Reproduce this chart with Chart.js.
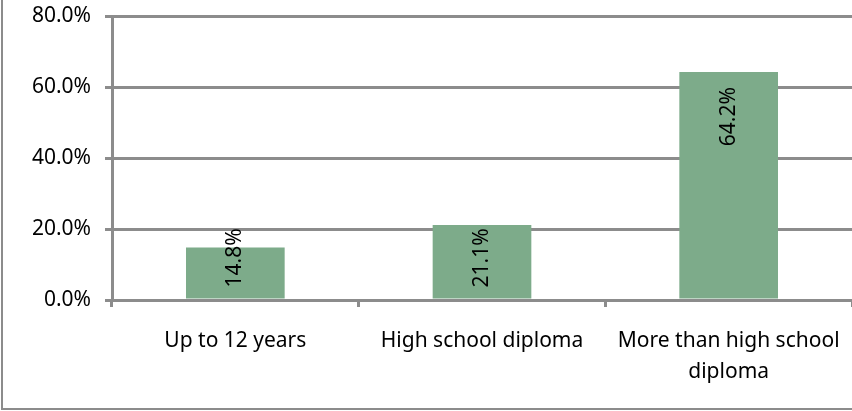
<!DOCTYPE html>
<html lang="en">
<head>
    <meta charset="UTF-8">
    <title>Education level</title>
    <script src="https://cdn.jsdelivr.net/npm/chart.js"></script>
    <style>
        html, body { margin: 0; padding: 0; background: #fff; }
        #wrap { width: 852px; height: 411px; position: relative; }
    </style>
</head>
<body>
    <div id="wrap"><canvas id="eduChart" width="852" height="411"></canvas></div>

    <script>
        // chart data
        const categories = [['Up to 12 years'], ['High school diploma'], ['More than high school', 'diploma']];
        const shares = [14.8, 21.1, 64.2];
        const yTicks = [0, 20, 40, 60, 80];

        const FONT = 'Noto Sans';
        const GRID = '#8c8c8c';

        // frame around the chart (left and bottom edge visible)
        const framePlugin = {
            id: 'frame',
            beforeDraw(chart) {
                const ctx = chart.ctx;
                ctx.save();
                ctx.strokeStyle = '#8c8c8c';
                ctx.lineWidth = 2;
                ctx.beginPath();
                ctx.moveTo(2, 0);
                ctx.lineTo(2, 409);
                ctx.lineTo(852, 409);
                ctx.stroke();
                ctx.restore();
            }
        };

        // rotated value labels, inside end, pushed up from the base for short bars
        const valueLabels = {
            id: 'valueLabels',
            afterDatasetsDraw(chart) {
                const ctx = chart.ctx;
                const meta = chart.getDatasetMeta(0);
                ctx.save();
                ctx.font = '21px "' + FONT + '"';
                ctx.fillStyle = '#000';
                ctx.textBaseline = 'middle';
                meta.data.forEach((bar, i) => {
                    const text = shares[i].toFixed(1) + '%';
                    const len = ctx.measureText(text).width;
                    let top = bar.y + 15;
                    if (top + len > bar.base - 11) top = bar.base - 11 - len;
                    ctx.save();
                    ctx.translate(bar.x, top);
                    ctx.rotate(-Math.PI / 2);
                    ctx.textAlign = 'right';
                    ctx.fillText(text, 0, 0);
                    ctx.restore();
                });
                ctx.restore();
            }
        };

        new Chart(document.getElementById('eduChart'), {
            type: 'bar',
            data: {
                labels: categories,
                datasets: [{
                    data: shares,
                    backgroundColor: '#7dab8a',
                    barPercentage: 0.4,
                    categoryPercentage: 1.0
                }]
            },
            options: {
                responsive: false,
                animation: false,
                layout: { padding: { top: 16, right: 0, left: 0, bottom: 0 } },
                plugins: {
                    legend: { display: false },
                    tooltip: { enabled: false }
                },
                scales: {
                    x: {
                        grid: {
                            drawOnChartArea: false,
                            drawTicks: true,
                            tickLength: 7,
                            color: GRID,
                            lineWidth: 3
                        },
                        border: { display: true, color: GRID, width: 3 },
                        ticks: {
                            color: '#000',
                            padding: 19,
                            maxRotation: 0,
                            autoSkip: false,
                            font: { family: FONT, size: 21, lineHeight: 1.45 }
                        },
                        afterFit(scale) {
                            scale.height = 111;
                            scale.paddingLeft = 0;
                            scale.paddingRight = 0;
                        }
                    },
                    y: {
                        min: 0,
                        max: 80,
                        afterBuildTicks(scale) {
                            scale.ticks = yTicks.map(v => ({ value: v }));
                        },
                        grid: {
                            color: GRID,
                            lineWidth: 3,
                            tickLength: 7
                        },
                        border: { display: true, color: GRID, width: 3 },
                        ticks: {
                            color: '#000',
                            padding: 14,
                            font: { family: FONT, size: 21 },
                            callback: v => v.toFixed(1) + '%'
                        },
                        afterFit(scale) {
                            scale.width = 112;
                            scale.paddingTop = 0;
                            scale.paddingBottom = 0;
                        }
                    }
                }
            },
            plugins: [framePlugin, valueLabels]
        });
    </script>
</body>
</html>
